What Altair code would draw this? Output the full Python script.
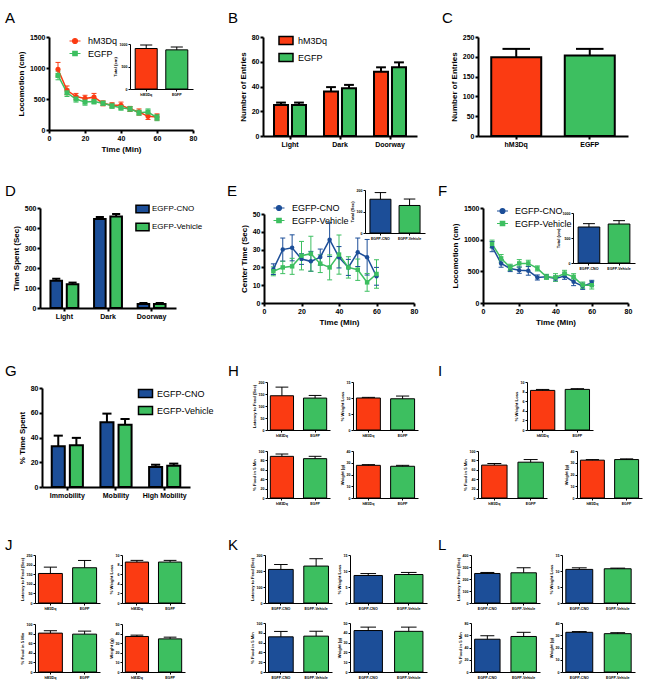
import altair as alt
import pandas as pd

# ---------------------------------------------------------------- data
TIME = [5, 10, 15, 20, 25, 30, 35, 40, 45, 50, 55, 60]
GENO = ["hM3Dq", "EGFP"]
TREAT = ["EGFP-CNO", "EGFP-Vehicle"]
ZONES = ["Light", "Dark", "Doorway"]
MOBILITY = ["Immobility", "Mobility", "High Mobility"]

# A: open-field locomotion per 5-min bin, plus totals
A_HM3DQ = [980, 640, 540, 510, 530, 430, 400, 400, 340, 290, 220, 210]
A_HM3DQ_SEM = [110, 70, 50, 50, 60, 40, 40, 50, 40, 50, 50, 50]
A_EGFP = [880, 600, 500, 450, 460, 430, 390, 360, 340, 280, 290, 200]
A_EGFP_SEM = [70, 60, 50, 50, 40, 35, 40, 40, 40, 40, 50, 50]
A_TOTAL = [900, 870]
A_TOTAL_SEM = [80, 65]

# B / C: light-dark box entries
B_HM3DQ = [25, 36, 52]
B_HM3DQ_SEM = [2, 3.5, 3.5]
B_EGFP = [25, 38.5, 55.5]
B_EGFP_SEM = [2, 2.8, 4]
C_ENTRIES = [199, 203]
C_ENTRIES_SEM = [21, 17]

# D: time spent per compartment
D_CNO = [136, 445, 20]
D_CNO_SEM = [10, 10, 5]
D_VEH = [119, 458, 20]
D_VEH_SEM = [8, 12, 5]

# E: center time per bin, plus totals
E_CNO = [19, 30, 31, 24.7, 23.4, 25.8, 35.6, 25.7, 20, 28.5, 25.7, 15]
E_CNO_SEM = [3, 6.5, 7.3, 3, 5.6, 4.5, 9.5, 6, 4.5, 8, 10, 5]
E_VEH = [17.8, 20, 20.6, 26.6, 27.7, 22.1, 20, 27.2, 20, 18.7, 11.6, 16.3]
E_VEH_SEM = [2.5, 3.5, 4.5, 8, 9.8, 5, 7, 11, 6, 6, 5, 8]
E_TOTAL = [157, 128]
E_TOTAL_SEM = [31, 30]

# F: locomotion per bin, plus totals
F_CNO = [890, 625, 546, 519, 509, 403, 413, 387, 424, 334, 265, 318]
F_CNO_SEM = [80, 60, 50, 50, 70, 40, 30, 40, 50, 60, 50, 40]
F_VEH = [933, 705, 562, 625, 625, 546, 413, 403, 466, 413, 281, 281]
F_VEH_SEM = [60, 60, 50, 60, 50, 40, 40, 60, 50, 50, 50, 60]
F_TOTAL = [720, 780]
F_TOTAL_SEM = [67, 67]

# G: mobility states
G_CNO = [33, 52.3, 16.2]
G_CNO_SEM = [8.5, 7, 1.8]
G_VEH = [33.7, 50.4, 17.2]
G_VEH_SEM = [6, 4.6, 1.7]

# H-L: novelty-suppressed feeding measures (two groups each)
H_LATENCY, H_LATENCY_SEM = [142.7, 133], [36, 11]
H_WLOSS, H_WLOSS_SEM = [10, 9.76], [0.2, 0.85]
H_FOOD, H_FOOD_SEM = [88.6, 83.7], [5, 5]
H_WEIGHT, H_WEIGHT_SEM = [27.8, 27], [0.6, 0.8]

I_WLOSS, I_WLOSS_SEM = [8.25, 8.46], [0.2, 0.15]
I_FOOD, I_FOOD_SEM = [70, 76.2], [3.4, 5.6]
I_WEIGHT, I_WEIGHT_SEM = [32.2, 32.7], [0.5, 0.6]

J_LATENCY, J_LATENCY_SEM = [153.8, 183.6], [33, 38]
J_WLOSS, J_WLOSS_SEM = [8.53, 8.53], [0.35, 0.35]
J_FOOD, J_FOOD_SEM = [81, 78.9], [5, 6.3]
J_WEIGHT, J_WEIGHT_SEM = [37, 34.5], [1.4, 1.8]

K_LATENCY, K_LATENCY_SEM = [209.8, 230.8], [31, 46]
K_WLOSS, K_WLOSS_SEM = [8.6, 8.9], [0.6, 0.65]
K_FOOD, K_FOOD_SEM = [71.8, 73.2], [11, 10]
K_WEIGHT, K_WEIGHT_SEM = [42.3, 41.5], [3.5, 4.3]

L_LATENCY, L_LATENCY_SEM = [246, 251.7], [8.5, 42]
L_WLOSS, L_WLOSS_SEM = [10.5, 10.7], [0.5, 0.2]
L_FOOD, L_FOOD_SEM = [53.5, 58], [5.7, 6.8]
L_WEIGHT, L_WEIGHT_SEM = [32.4, 31.3], [0.6, 0.8]

# ---------------------------------------------------------------- style
W, H = 645, 696
FONT = "Liberation Sans"
RED, GREEN, BLUE = "#fb3b12", "#3dbf60", "#1c4e98"

# legend glyphs for the time-course panels: a short line with the marker on it
KEY_CIRCLE = "M-2.75,0H2.75M1.25,0A1.25,1.25,0,1,1,-1.25,0A1.25,1.25,0,1,1,1.25,0Z"
KEY_SQUARE = "M-2.75,0H2.75M-1.1,-1.1H1.1V1.1H-1.1Z"

STYLE = {
    "big": dict(domainWidth=2, tickWidth=2, tickSize=3, labelFontSize=7,
                titleFontSize=8, labelPadding=1, titlePadding=4),
    "small": dict(domainWidth=1, tickWidth=1, tickSize=2, labelFontSize=3.6,
                  titleFontSize=4.2, labelPadding=1, titlePadding=2),
}


def _axis(orient, offset, style, **kw):
    return alt.Axis(orient=orient, offset=offset, grid=False,
                    domainColor="black", tickColor="black",
                    labelColor="black", titleColor="black",
                    labelFont=FONT, titleFont=FONT,
                    labelFontWeight="bold", titleFontWeight="bold",
                    **STYLE[style], **kw)


def y_axis(x0, title, ticks, style):
    return _axis("left", -x0, style, title=title, values=ticks, format="d")


def x_axis(ybot, style, title=None, ticks=None):
    kw = dict(title=title, labelAngle=0)
    if ticks is not None:
        kw["values"] = ticks
        kw["labelFlush"] = False
        kw["format"] = "d"
    return _axis("bottom", ybot - H, style, **kw)


def band_width(x0, x1, n, pin, pout):
    step = (x1 - x0) / (n - pin + 2 * pout)
    return step * (1 - pin)


def bar_panel(groups, means, sems, colors, box, ytop, yticks, ytitle,
              style="small", pin=0.3, pout=0.1):
    x0, x1, yb, yt = box
    df = pd.DataFrame({"group": groups, "mean": means,
                       "top": [m + s for m, s in zip(means, sems)]})
    sw = 2 if style == "big" else 1
    capw = 0.55 * band_width(x0, x1, len(groups), pin, pout)
    xs = alt.Scale(range=[x0, x1], paddingInner=pin, paddingOuter=pout)
    ys = alt.Scale(domain=[0, ytop], range=[yb, yt], nice=False, zero=True)
    xa = x_axis(yb, style)
    ya = y_axis(x0, ytitle, yticks, style)

    def X():
        return alt.X("group:N", sort=list(groups), scale=xs, axis=xa)

    def Y(field):
        return alt.Y(f"{field}:Q", scale=ys, axis=ya)

    base = alt.Chart(df)
    bars = base.mark_bar(stroke="black", strokeWidth=sw).encode(
        x=X(), y=Y("mean"),
        color=alt.Color("group:N", scale=alt.Scale(domain=list(groups), range=list(colors)),
                        legend=None))
    err = base.mark_rule(color="black", strokeWidth=sw).encode(
        x=X(), y=Y("mean"), y2="top:Q")
    cap = base.mark_tick(color="black", orient="horizontal", thickness=sw,
                         size=capw, opacity=1).encode(x=X(), y=Y("top"))
    return alt.layer(bars, err, cap)


def rect_legend(lx, ly, size, offset, font=9):
    return alt.Legend(orient="none", legendX=lx, legendY=ly, title=None,
                      labelFont=FONT, labelFontSize=font, labelColor="black",
                      labelOffset=offset, rowPadding=3, padding=0,
                      symbolType="M-1.75,-1H1.75V1H-1.75Z", symbolSize=size,
                      symbolStrokeColor="black", symbolStrokeWidth=1.5,
                      symbolOpacity=1)


def line_legend(lx, ly, offset, font=9):
    return alt.Legend(orient="none", legendX=lx, legendY=ly, title=None,
                      labelFont=FONT, labelFontSize=font, labelColor="black",
                      labelOffset=offset, rowPadding=1.5, padding=0,
                      symbolSize=16, symbolOpacity=1, symbolStrokeWidth=1.2)


def grouped_panel(cats, names, means, sems, colors, box, ytop, yticks, ytitle,
                  pin, pout, poff, legend):
    x0, x1, yb, yt = box
    rows = []
    for name, ms, es in zip(names, means, sems):
        for c, m, e in zip(cats, ms, es):
            rows.append({"cat": c, "group": name, "mean": m, "top": m + e})
    df = pd.DataFrame(rows)
    gw = band_width(x0, x1, len(cats), pin, pout)
    bw = band_width(0, gw, len(names), poff, 0)
    xs = alt.Scale(range=[x0, x1], paddingInner=pin, paddingOuter=pout)
    ys = alt.Scale(domain=[0, ytop], range=[yb, yt], nice=False, zero=True)
    xa = x_axis(yb, "big")
    ya = y_axis(x0, ytitle, yticks, "big")
    offs = alt.Scale(paddingInner=poff, paddingOuter=0)

    def enc(field):
        return dict(x=alt.X("cat:N", sort=list(cats), scale=xs, axis=xa),
                    xOffset=alt.XOffset("group:N", sort=list(names), scale=offs),
                    y=alt.Y(f"{field}:Q", scale=ys, axis=ya))

    base = alt.Chart(df)
    bars = base.mark_bar(stroke="black", strokeWidth=2).encode(
        **enc("mean"),
        color=alt.Color("group:N", sort=list(names),
                        scale=alt.Scale(domain=list(names), range=list(colors)),
                        legend=legend))
    err = base.mark_rule(color="black", strokeWidth=2).encode(**enc("mean"), y2="top:Q")
    cap = base.mark_tick(color="black", orient="horizontal", thickness=2,
                         size=0.7 * bw, opacity=1).encode(**enc("top"))
    return alt.layer(bars, err, cap)


def line_panel(names, means, sems, colors, shapes, box, ytop, yticks, ytitle,
               psize=20):
    x0, x1, yb, yt = box
    rows = []
    for name, ms, es in zip(names, means, sems):
        for t, m, e in zip(TIME, ms, es):
            rows.append({"time": t, "group": name, "mean": m, "lo": m - e, "hi": m + e})
    df = pd.DataFrame(rows)
    xs = alt.Scale(domain=[0, 80], range=[x0, x1], nice=False, zero=True)
    ys = alt.Scale(domain=[0, ytop], range=[yb, yt], nice=False, zero=True)
    xa = x_axis(yb, "big", "Time (Min)", [0, 20, 40, 60, 80])
    ya = y_axis(x0, ytitle, yticks, "big")
    cs = alt.Scale(domain=list(names), range=list(colors))

    def enc(field):
        return dict(x=alt.X("time:Q", scale=xs, axis=xa),
                    y=alt.Y(f"{field}:Q", scale=ys, axis=ya),
                    color=alt.Color("group:N", sort=list(names), scale=cs, legend=None))

    base = alt.Chart(df)
    layers = [
        base.mark_rule(strokeWidth=1).encode(**enc("lo"), y2="hi:Q"),
        base.mark_tick(orient="horizontal", size=5, thickness=1, opacity=1).encode(**enc("lo")),
        base.mark_tick(orient="horizontal", size=5, thickness=1, opacity=1).encode(**enc("hi")),
        base.mark_line(strokeWidth=1.5).encode(**enc("mean")),
    ]
    for name, shape in zip(names, shapes):
        layers.append(
            base.transform_filter(alt.datum.group == name)
            .mark_point(filled=True, opacity=1, size=psize, shape=shape)
            .encode(**enc("mean")))
    return alt.layer(*layers)


def line_key(names, colors, legend):
    """Legend for a time-course panel: line-and-marker glyph per series."""
    cs = alt.Scale(domain=list(names), range=list(colors))
    return alt.Chart(pd.DataFrame({"group": names})).mark_point(
        filled=True, size=0
    ).encode(
        fill=alt.Fill("group:N", sort=list(names), scale=cs, legend=legend),
        stroke=alt.Stroke("group:N", sort=list(names), scale=cs, legend=legend),
        shape=alt.Shape("group:N", sort=list(names),
                        scale=alt.Scale(domain=list(names), range=[KEY_CIRCLE, KEY_SQUARE]),
                        legend=legend))


def letter(ch, x, y):
    return alt.Chart(pd.DataFrame({"t": [ch]})).mark_text(
        font=FONT, fontSize=15, align="left", baseline="alphabetic", color="black"
    ).encode(x=alt.value(x), y=alt.value(y), text="t:N")


GC = [RED, GREEN]
TC = [BLUE, GREEN]
INSET = dict(style="small", pin=0.28, pout=0.17)

panels = [
    # A
    line_panel(GENO, [A_HM3DQ, A_EGFP], [A_HM3DQ_SEM, A_EGFP_SEM], GC,
               ["circle", "square"], (49, 193, 130, 37), 1500,
               [0, 500, 1000, 1500], "Locomotion (cm)", psize=26),
    line_key(GENO, GC, line_legend(70.5, 36.5, 8.5)),
    bar_panel(GENO, A_TOTAL, A_TOTAL_SEM, GC, (130, 193, 89, 44), 1000,
              [0, 500, 1000], "Total (cm)", **INSET),
    # B
    grouped_panel(ZONES, GENO, [B_HM3DQ, B_EGFP], [B_HM3DQ_SEM, B_EGFP_SEM], GC,
                  (263, 417, 136, 37), 80, [0, 20, 40, 60, 80], "Number of Entries",
                  0.36, 0.22, 0.22, rect_legend(281, 35.5, 64, 7)),
    # C
    bar_panel(GENO, C_ENTRIES, C_ENTRIES_SEM, GC, (478, 628, 136, 37), 250,
              [0, 50, 100, 150, 200, 250], "Number of Entries", style="big",
              pin=0.32, pout=0.18),
    # D
    grouped_panel(ZONES, TREAT, [D_CNO, D_VEH], [D_CNO_SEM, D_VEH_SEM], TC,
                  (40, 176, 308, 208), 500, [0, 100, 200, 300, 400, 500],
                  "Time Spent (Sec)", 0.36, 0.24, 0.29,
                  rect_legend(138, 204.5, 56, 5, font=8)),
    # E
    line_panel(TREAT, [E_CNO, E_VEH], [E_CNO_SEM, E_VEH_SEM], TC,
               ["circle", "square"], (264, 414, 303, 214), 50,
               [0, 10, 20, 30, 40, 50], "Center Time (Sec)"),
    line_key(TREAT, TC, line_legend(274.5, 203.5, 8.5)),
    bar_panel(TREAT, E_TOTAL, E_TOTAL_SEM, TC, (365, 425, 233, 190), 200,
              [0, 100, 200], "Total (Sec)", **INSET),
    # F
    line_panel(TREAT, [F_CNO, F_VEH], [F_CNO_SEM, F_VEH_SEM], TC,
               ["circle", "square"], (483, 628, 303, 208), 1500,
               [0, 500, 1000, 1500], "Locomotion (cm)"),
    line_key(TREAT, TC, line_legend(498, 206.5, 8)),
    bar_panel(TREAT, F_TOTAL, F_TOTAL_SEM, TC, (573, 635, 263, 213), 1000,
              [0, 500, 1000], "Total (cm)", **INSET),
    # G
    grouped_panel(MOBILITY, TREAT, [G_CNO, G_VEH], [G_CNO_SEM, G_VEH_SEM], TC,
                  (42, 190, 487, 388), 80, [0, 20, 40, 60, 80], "% Time Spent",
                  0.36, 0.2, 0.28, rect_legend(140.5, 388.5, 64, 6.5)),
    # H
    bar_panel(GENO, H_LATENCY, H_LATENCY_SEM, GC, (267, 330, 430, 382), 200,
              [0, 50, 100, 150, 200], "Latency to Feed (Sec)"),
    bar_panel(GENO, H_WLOSS, H_WLOSS_SEM, GC, (353, 418, 430, 382), 15,
              [0, 5, 10, 15], "% Weight Loss"),
    bar_panel(GENO, H_FOOD, H_FOOD_SEM, GC, (267, 330, 498, 451), 100,
              [0, 20, 40, 60, 80, 100], "% Food in 5 Min"),
    bar_panel(GENO, H_WEIGHT, H_WEIGHT_SEM, GC, (353, 418, 498, 451), 40,
              [0, 10, 20, 30, 40], "Weight (g)"),
    # I
    bar_panel(GENO, I_WLOSS, I_WLOSS_SEM, GC, (527, 593, 430, 382), 10,
              [0, 2, 4, 6, 8, 10], "% Weight Loss"),
    bar_panel(GENO, I_FOOD, I_FOOD_SEM, GC, (478, 547, 498, 451), 100,
              [0, 20, 40, 60, 80, 100], "% Food in 5 Min"),
    bar_panel(GENO, I_WEIGHT, I_WEIGHT_SEM, GC, (577, 642, 498, 451), 40,
              [0, 10, 20, 30, 40], "Weight (g)"),
    # J
    bar_panel(GENO, J_LATENCY, J_LATENCY_SEM, GC, (35, 100, 603, 555), 250,
              [0, 50, 100, 150, 200, 250], "Latency to Feed (Sec)"),
    bar_panel(GENO, J_WLOSS, J_WLOSS_SEM, GC, (122, 185, 603, 555), 10,
              [0, 2, 4, 6, 8, 10], "% Weight Loss"),
    bar_panel(GENO, J_FOOD, J_FOOD_SEM, GC, (35, 100, 672, 624), 100,
              [0, 20, 40, 60, 80, 100], "% Food in 5 Min"),
    bar_panel(GENO, J_WEIGHT, J_WEIGHT_SEM, GC, (122, 185, 672, 624), 50,
              [0, 10, 20, 30, 40, 50], "Weight (g)"),
    # K
    bar_panel(TREAT, K_LATENCY, K_LATENCY_SEM, TC, (265, 332, 603, 555), 300,
              [0, 100, 200, 300], "Latency to Feed (Sec)"),
    bar_panel(TREAT, K_WLOSS, K_WLOSS_SEM, TC, (350, 427, 603, 555), 15,
              [0, 5, 10, 15], "% Weight Loss"),
    bar_panel(TREAT, K_FOOD, K_FOOD_SEM, TC, (265, 332, 672, 623), 100,
              [0, 20, 40, 60, 80, 100], "% Food in 5 Min"),
    bar_panel(TREAT, K_WEIGHT, K_WEIGHT_SEM, TC, (350, 427, 672, 623), 50,
              [0, 10, 20, 30, 40, 50], "Weight (g)"),
    # L
    bar_panel(TREAT, L_LATENCY, L_LATENCY_SEM, TC, (471, 540, 603, 555), 400,
              [0, 100, 200, 300, 400], "Latency to Feed (Sec)"),
    bar_panel(TREAT, L_WLOSS, L_WLOSS_SEM, TC, (562, 635, 603, 555), 15,
              [0, 5, 10, 15], "% Weight Loss"),
    bar_panel(TREAT, L_FOOD, L_FOOD_SEM, TC, (471, 540, 672, 623), 80,
              [0, 20, 40, 60, 80], "% Food in 5 Min"),
    bar_panel(TREAT, L_WEIGHT, L_WEIGHT_SEM, TC, (562, 635, 672, 623), 40,
              [0, 10, 20, 30, 40], "Weight (g)"),
]

LETTERS = {"A": (5, 23), "B": (228, 23), "C": (442, 23),
           "D": (5, 196), "E": (227, 196), "F": (438, 196),
           "G": (5, 376), "H": (228, 376), "I": (438, 376),
           "J": (5, 550), "K": (228, 550), "L": (438, 550)}
panels += [letter(ch, x, y) for ch, (x, y) in LETTERS.items()]

chart = alt.layer(*panels).resolve_scale(
    x="independent", y="independent", color="independent",
    fill="independent", stroke="independent",
    shape="independent", xOffset="independent"
).properties(
    width=W, height=H, padding=0, autosize=alt.AutoSizeParams(type="none")
).configure_view(stroke=None)

chart.save("out.html", embed_options={"renderer": "svg", "actions": False})
